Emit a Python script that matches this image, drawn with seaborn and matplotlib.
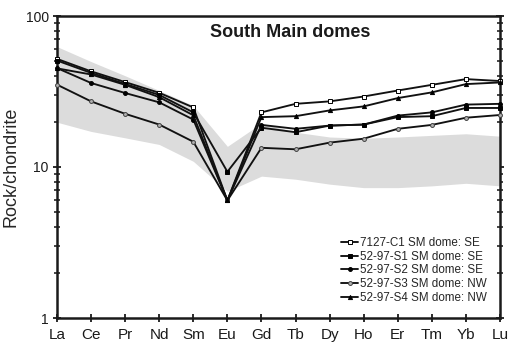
import numpy as np
import pandas as pd
import matplotlib
matplotlib.use("Agg")
import matplotlib.pyplot as plt
import seaborn as sns
from matplotlib.ticker import FixedLocator, NullFormatter, FixedFormatter

elements = ["La", "Ce", "Pr", "Nd", "Sm", "Eu", "Gd", "Tb", "Dy", "Ho", "Er", "Tm", "Yb", "Lu"]

c1 = [52, 43, 36.5, 31, 24.8, 6.0, 23.0, 26.2, 27.2, 29.3, 32.1, 35.0, 38.2, 37.1]
s1 = [50.7, 42, 35.5, 30, 23.0, 9.3, 18.2, 17.0, 18.8, 19.1, 21.4, 21.7, 24.6, 24.6]
s2 = [45.2, 36, 30.9, 26.8, 20.6, 6.0, 19.0, 17.9, 18.8, 19.1, 21.9, 23.0, 25.9, 26.2]
s3 = [35.1, 27.2, 22.5, 19.1, 14.7, 6.0, 13.4, 13.1, 14.5, 15.4, 17.9, 19.0, 21.2, 22.1]
s4 = [45.0, 41.0, 35.0, 29.0, 22.0, 6.0, 21.4, 21.7, 23.7, 25.2, 28.6, 31.2, 35.4, 36.3]

band_upper = [62.7, 49.9, 40.2, 32.1, 25.5, 13.7, 19.5, 17.0, 15.8, 15.5, 15.8, 16.2, 16.6, 16.0]
band_lower = [19.8, 17.2, 15.6, 14.1, 10.9, 6.9, 8.7, 8.3, 7.7, 7.3, 7.3, 7.5, 7.8, 7.5]

labels = ["7127-C1 SM dome: SE", "52-97-S1 SM dome: SE", "52-97-S2 SM dome: SE",
          "52-97-S3 SM dome: NW", "52-97-S4 SM dome: NW"]
series = [c1, s1, s2, s3, s4]

title = "South Main domes"
ylabel = "Rock/chondrite"

sns.set_style("ticks")
plt.rcParams["font.family"] = ["Liberation Sans", "DejaVu Sans"]

fig = plt.figure(figsize=(5.15, 3.5), dpi=100)
ax = fig.add_axes([57/515, 1-318/350, 443/515, 302/350])

xpos = np.arange(len(elements))
ax.fill_between(xpos, band_lower, band_upper, color="#dcdcdc", lw=0, zorder=1)

styles = [
    dict(marker="s", markersize=3.2, markerfacecolor="white", markeredgecolor="black", markeredgewidth=0.7),
    dict(marker="s", markersize=3.0, markerfacecolor="black", markeredgecolor="black", markeredgewidth=0.7),
    dict(marker="o", markersize=2.8, markerfacecolor="black", markeredgecolor="black", markeredgewidth=0.7),
    dict(marker="o", markersize=2.8, markerfacecolor="#b0b0b0", markeredgecolor="#404040", markeredgewidth=0.7),
    dict(marker="^", markersize=3.0, markerfacecolor="black", markeredgecolor="black", markeredgewidth=0.7),
]

for vals, lab, st in zip(series, labels, styles):
    df = pd.DataFrame({"x": xpos, "y": vals})
    sns.lineplot(data=df, x="x", y="y", ax=ax, color="#111111", linewidth=1.35,
                 label=lab, clip_on=False, zorder=3, **st)

ax.set_yscale("log")
ax.set_ylim(1, 100)
ax.set_xlim(0, len(elements) - 1)
ax.yaxis.set_major_locator(FixedLocator([1, 10, 100]))
ax.yaxis.set_major_formatter(FixedFormatter(["1", "10", "100"]))
minors = [m * d for d in [1, 10] for m in range(2, 10)]
ax.yaxis.set_minor_locator(FixedLocator(minors))
ax.yaxis.set_minor_formatter(NullFormatter())
ax.set_xticks(xpos)
ax.set_xticklabels(elements)

ax.set_xlabel("")
ax.set_ylabel(ylabel, fontsize=13, labelpad=4)

for sp in ax.spines.values():
    sp.set_linewidth(1.8)
    sp.set_color("#1a1a1a")

ax.tick_params(axis="both", which="major", direction="inout", length=6, width=1.3,
               colors="#1a1a1a", pad=3)
ax.tick_params(axis="y", which="major", labelsize=10)
ax.tick_params(axis="x", which="major", labelsize=11, pad=4)
ax.tick_params(axis="y", which="both", right=True, left=True)
ax.tick_params(axis="y", which="minor", direction="inout", length=5, width=1.2)
ax.tick_params(axis="x", top=False)

ax.text(0.526, 0.945, title, transform=ax.transAxes, ha="center", va="center",
        fontsize=13, fontweight="bold", color="#1a1a1a")

leg = ax.legend(loc="upper left", bbox_to_anchor=(0.642, 0.268), frameon=False,
                fontsize=8.4, handlelength=1.45, handletextpad=0.15, labelspacing=0.14,
                borderpad=0, borderaxespad=0)

fig.savefig("out.png", dpi=100)
